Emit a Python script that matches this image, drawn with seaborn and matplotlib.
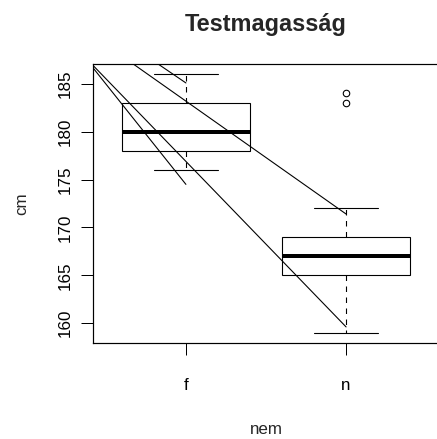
import matplotlib
matplotlib.use("Agg")
import matplotlib.pyplot as plt
import pandas as pd
import seaborn as sns

sns.set_style("ticks")
plt.rcParams['font.family'] = ['Liberation Sans', 'DejaVu Sans']

# Body height samples per sex group
groups = ["f", "n"]
f_heights = [176, 178, 178, 179, 180, 182, 183, 183, 186]
n_heights = [159, 163, 164, 165, 166, 167, 167, 168, 168, 169, 172, 183, 184]

# Straight segments overlaid on the boxes (x in category positions: f = 0, n = 1)
seg_x0 = [-1, -1, -1, -1]
seg_y0 = [195.5, 194.2, 195.0, 196.5]
seg_x1 = [0, 1, 1, 0]
seg_y1 = [174.5, 159.6, 171.4, 185.1]

yticks = [160, 165, 170, 175, 180, 185]

df = pd.DataFrame({
    "nem": ["f"] * len(f_heights) + ["n"] * len(n_heights),
    "cm": f_heights + n_heights,
})

W, H = 437, 439
fig = plt.figure(figsize=(W / 72, H / 72), dpi=72)
ax = fig.add_axes([93 / W, 1 - 343 / H, 346 / W, 279 / H])

sns.boxplot(
    data=df, x="nem", y="cm", order=groups, ax=ax,
    width=0.8, whis=1.5, color="white", linecolor="black", linewidth=1,
    fliersize=6.5,
    boxprops=dict(facecolor="white", edgecolor="black", linewidth=1.1),
    whiskerprops=dict(linestyle=(0, (5, 5)), linewidth=1.1),
    capprops=dict(linewidth=1.1),
    medianprops=dict(linewidth=4, color="black"),
    flierprops=dict(marker="o", markerfacecolor="none",
                    markeredgecolor="black", markeredgewidth=1.1),
)

for x0, y0, x1, y1 in zip(seg_x0, seg_y0, seg_x1, seg_y1):
    ax.plot([x0, x1], [y0, y1], color="black", lw=1.1, zorder=5)

ax.set_xlim(-0.58, 1.58)
ax.set_ylim(157.92, 187.08)
ax.set_yticks(yticks)
ax.set_yticklabels([str(t) for t in yticks])

for side in ["left", "right", "top", "bottom"]:
    ax.spines[side].set_visible(True)
    ax.spines[side].set_color("black")
    ax.spines[side].set_linewidth(1.2)

ax.tick_params(axis="both", direction="out", length=12, width=1,
               colors="black", labelsize=17)
ax.tick_params(axis="x", pad=23)
ax.tick_params(axis="y", pad=8, labelrotation=90)
for lab in ax.get_yticklabels():
    lab.set_va("center")

ax.set_xlabel("nem", fontsize=17, va="center")
ax.xaxis.set_label_coords(0.5, (343 - 429) / 279)
ax.set_ylabel("cm", fontsize=17, va="center")
ax.yaxis.set_label_coords((22 - 93) / 346, 0.5)

ax.set_title("Testmagasság", fontsize=23.5, fontweight="bold", pad=33)

fig.savefig("out.png", dpi=72, facecolor="white")
